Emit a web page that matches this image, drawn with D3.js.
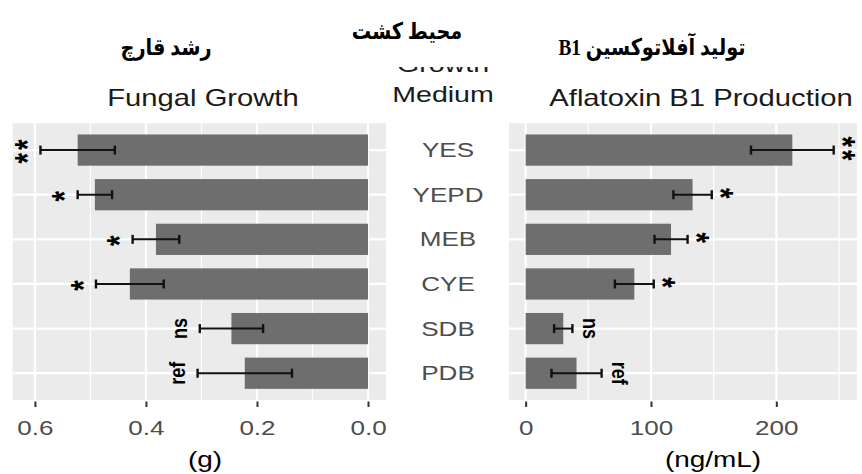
<!DOCTYPE html>
<html>
<head>
<meta charset="utf-8">
<script src="https://cdn.jsdelivr.net/npm/d3@7"></script>
<style>
  body { margin: 0; background: #fff; }
  svg { display: block; }
</style>
</head>
<body>
<svg id="chart" width="862" height="474"></svg>
<script>
// growth media, top to bottom
const media = ['YES', 'YEPD', 'MEB', 'CYE', 'SDB', 'PDB'];

// fungal growth (g)
const growthMean = [0.523, 0.492, 0.382, 0.429, 0.246, 0.222];
const growthSd = [0.067, 0.031, 0.042, 0.061, 0.057, 0.085];
const growthSig = ['**', '*', '*', '*', 'ns', 'ref'];
const growthTicks = [0, 0.2, 0.4, 0.6];
const growthMinor = [0.1, 0.3, 0.5];

// aflatoxin B1 (ng/mL)
const aflaMean = [212.8, 133.2, 116, 86.7, 30, 40.6];
const aflaSd = [33, 15.3, 13.2, 15.5, 7.3, 20];
const aflaSig = ['**', '*', '*', '*', 'ns', 'ref'];
const aflaTicks = [0, 100, 200];
const aflaMinor = [50, 150, 250];

// the picture was stretched sideways, so text is too
const SX = 1.27;
const svg = d3.select('#chart');

const panelTop = 123.3, panelBottom = 400;

const y = d3.scalePoint()
    .domain(media)
    .range([panelTop, panelBottom])
    .padding(0.6);
const barH = y.step() * 0.7;

function stext(g, x, yy, txt, size, opts) {
    opts = opts || {};
    const sx = opts.sx || SX;
    const t = g.append('text')
        .attr('transform', `translate(${x},${yy}) scale(${sx},1)` + (opts.rotate ? ` rotate(${opts.rotate})` : ''))
        .attr('text-anchor', opts.anchor || 'middle')
        .attr('font-family', opts.family || '"Liberation Sans", Arial, sans-serif')
        .attr('font-size', size)
        .attr('fill', opts.fill || '#000')
        .text(txt);
    if (opts.weight) t.attr('font-weight', opts.weight);
    if (opts.baseline) t.attr('dominant-baseline', opts.baseline);
    if (opts.spacing) t.attr('letter-spacing', opts.spacing);
    if (opts.rtl) t.attr('direction', 'rtl').attr('unicode-bidi', 'embed');
    return t;
}

// Persian captions added on top of the figure
function faText(g, x, yy, txt) {
    return stext(g, x, yy, txt, 23, {
        sx: 0.84, rtl: true, weight: 'bold',
        family: '"Liberation Serif", "DejaVu Sans", serif', fill: '#000'
    });
}

function panel(opts) {
    const x = opts.x;
    const g = svg.append('g');
    const [x0, x1] = opts.range;
    const left = Math.min(x0, x1), right = Math.max(x0, x1);

    g.append('rect')
        .attr('x', left).attr('y', panelTop)
        .attr('width', right - left).attr('height', panelBottom - panelTop)
        .attr('fill', '#ebebeb');

    g.selectAll('.minor').data(opts.minor).enter().append('line')
        .attr('x1', d => x(d)).attr('x2', d => x(d))
        .attr('y1', panelTop).attr('y2', panelBottom)
        .attr('stroke', '#fff').attr('stroke-width', 1.2);

    g.selectAll('.major').data(opts.ticks).enter().append('line')
        .attr('x1', d => x(d)).attr('x2', d => x(d))
        .attr('y1', panelTop).attr('y2', panelBottom)
        .attr('stroke', '#fff').attr('stroke-width', 2.2);

    g.selectAll('.hgrid').data(media).enter().append('line')
        .attr('x1', left).attr('x2', right)
        .attr('y1', d => y(d)).attr('y2', d => y(d))
        .attr('stroke', '#fff').attr('stroke-width', 2.2);

    g.selectAll('.bar').data(media).enter().append('rect')
        .attr('x', (d, i) => Math.min(x(0), x(opts.mean[i])))
        .attr('width', (d, i) => Math.abs(x(opts.mean[i]) - x(0)))
        .attr('y', d => y(d) - barH / 2)
        .attr('height', barH)
        .attr('fill', '#6e6e6e');

    const err = g.selectAll('.err').data(media).enter().append('g');
    err.append('line')
        .attr('x1', (d, i) => x(opts.mean[i] - opts.sd[i]))
        .attr('x2', (d, i) => x(opts.mean[i] + opts.sd[i]))
        .attr('y1', d => y(d)).attr('y2', d => y(d))
        .attr('stroke', '#111').attr('stroke-width', 2);
    [-1, 1].forEach(s => {
        err.append('line')
            .attr('x1', (d, i) => x(opts.mean[i] + s * opts.sd[i]))
            .attr('x2', (d, i) => x(opts.mean[i] + s * opts.sd[i]))
            .attr('y1', d => y(d) - 4.5).attr('y2', d => y(d) + 4.5)
            .attr('stroke', '#111').attr('stroke-width', 2.4);
    });

    // significance labels beyond the error bar, rotated
    media.forEach((d, i) => {
        const lab = opts.sig[i];
        const star = lab.indexOf('*') === 0;
        const end = x(opts.mean[i] + opts.sd[i]);
        const px = end + opts.dir * (star ? opts.starOff : opts.textOff);
        stext(g, px, y(d), lab, star ? 27 : 18, {
            rotate: opts.rot, weight: 'bold', baseline: 'central',
            spacing: star ? 3 : null, fill: '#000'
        });
    });

    // bottom axis
    const ax = g.append('g')
        .attr('transform', `translate(0,${panelBottom})`)
        .call(d3.axisBottom(x).tickValues(opts.ticks).tickSize(7).tickPadding(0).tickFormat(opts.fmt));
    ax.select('.domain').remove();
    ax.selectAll('.tick line').attr('stroke', '#333').attr('stroke-width', 2).attr('y1', 1.5);
    ax.selectAll('.tick text')
        .attr('y', 28).attr('dy', '0.36em')
        .attr('transform', `scale(${SX},1)`)
        .attr('font-family', '"Liberation Sans", Arial, sans-serif')
        .attr('font-size', 20.5)
        .attr('fill', '#4d4d4d');

    stext(g, opts.titleX, 106, opts.title, 23, { fill: '#1a1a1a' });
    stext(g, opts.axisTitleX, 467, opts.axisTitle, 22, { fill: '#000' });
    faText(g, opts.faX, 55, opts.fa);
}

const xGrowth = d3.scaleLinear().domain([0.640, -0.0324]).range([12.7, 386]);
panel({
    x: xGrowth, range: [12.7, 386],
    mean: growthMean, sd: growthSd, sig: growthSig,
    ticks: growthTicks, minor: growthMinor,
    fmt: d3.format('.1f'),
    dir: -1, rot: -90, starOff: 13, textOff: 21,
    title: 'Fungal Growth', titleX: 203,
    axisTitle: '(g)', axisTitleX: 205,
    fa: 'رشد قارچ', faX: 166
});

const xAfla = d3.scaleLinear().domain([-13.3, 264.4]).range([509, 857]);
panel({
    x: xAfla, range: [509, 857],
    mean: aflaMean, sd: aflaSd, sig: aflaSig,
    ticks: aflaTicks, minor: aflaMinor,
    fmt: d3.format('d'),
    dir: 1, rot: 90, starOff: 9, textOff: 19,
    title: 'Aflatoxin B1 Production', titleX: 701,
    axisTitle: '(ng/mL)', axisTitleX: 713,
    fa: 'تولید آفلاتوکسین B1', faX: 652
});

// category labels between the panels
const mid = svg.append('g');
media.forEach(d => {
    stext(mid, 448, y(d), d, 20.5, { baseline: 'central', fill: '#4d4d4d' });
});

// middle title, top line cut off by the Persian label
stext(mid, 443, 72, 'Growth', 22.5, { fill: '#1a1a1a' });
stext(mid, 443, 102, 'Medium', 22.5, { fill: '#1a1a1a' });
mid.append('rect')
    .attr('x', 330).attr('y', 0).attr('width', 200).attr('height', 67)
    .attr('fill', '#fff');
faText(mid, 407, 39, 'محیط کشت');
</script>
</body>
</html>
